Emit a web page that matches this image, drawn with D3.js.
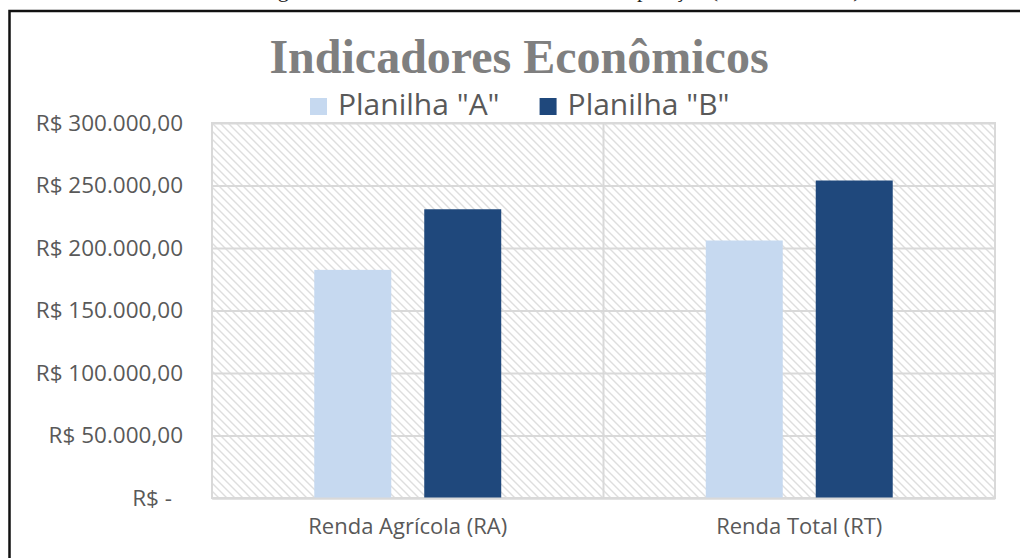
<!DOCTYPE html>
<html>
<head>
<meta charset="utf-8">
<script src="https://cdn.jsdelivr.net/npm/d3@7"></script>
<style>
  body { margin: 0; background: #fff; }
  svg { display: block; }
</style>
</head>
<body>
<svg id="chart"></svg>
<script>
// data
var categories = ["Renda Agrícola (RA)", "Renda Total (RT)"]
var seriesNames = ['Planilha "A"', 'Planilha "B"']
var planilhaA = [182500, 206000]
var planilhaB = [231000, 254000]
var yTicks = [0, 50000, 100000, 150000, 200000, 250000, 300000]
var colors = ["#c6d9f0", "#1f487c"]

var W = 1020, H = 558
var margin = {top: 123, right: 25, bottom: 60, left: 212}
var width = W - margin.left - margin.right
var height = H - margin.top - margin.bottom

var svg = d3.select("#chart")
    .attr("width", W)
    .attr("height", H)

// hatch fill of the plot area
var defs = svg.append("defs")
defs.append("pattern")
    .attr("id", "hatch")
    .attr("patternUnits", "userSpaceOnUse")
    .attr("width", 8)
    .attr("height", 8)
  .append("path")
    .attr("d", "M-2,-2L10,10M-2,6L2,10M6,-2L10,2")
    .attr("stroke", "#dedede")
    .attr("stroke-width", 1.4)

// caption line of the document above the chart, mostly cut off by the page edge
svg.append("text")
    .attr("x", 560)
    .attr("y", -3)
    .attr("text-anchor", "middle")
    .style("font-family", "Liberation Serif")
    .style("font-size", "22px")
    .style("fill", "#222")
    .text("Figura 5 – Indicadores Econômicos – Comparação (Planilhas A e B)")

// chart frame (top and left edges visible)
svg.append("path")
    .attr("d", "M9.5," + H + "V11H" + W)
    .attr("fill", "none")
    .attr("stroke", "#111")
    .attr("stroke-width", 2.5)

var g = svg.append("g")
    .attr("transform", "translate(" + margin.left + "," + margin.top + ")")

var x = d3.scaleBand()
    .domain(categories)
    .range([0, width])

var xSub = d3.scaleBand()
    .domain(seriesNames)
    .range([0, x.bandwidth()])
    .paddingInner(0.3)
    .paddingOuter(0.93)

var y = d3.scaleLinear()
    .domain([0, 300000])
    .range([height, 0])

g.append("rect")
    .attr("width", width)
    .attr("height", height)
    .attr("fill", "url(#hatch)")

function fmt(d) {
    if (d === 0) return "R$ -"
    return "R$ " + d3.format(",.2f")(d).replace(/,/g, "#").replace(".", ",").replace(/#/g, ".")
}

// y axis: gridlines + labels
var yAxis = g.append("g")
    .call(d3.axisLeft(y).tickValues(yTicks).tickSize(-width).tickPadding(29).tickFormat(fmt))
yAxis.select(".domain").remove()
yAxis.selectAll(".tick line")
    .attr("stroke", "#d9d9d9")
    .attr("stroke-width", 2)
yAxis.selectAll(".tick text")
    .attr("dx", d => d === 0 ? -11 : 0)
    .style("font-family", "Open Sans")
    .style("font-size", "22.5px")
    .style("fill", "#595959")

// plot border and category divider
g.append("rect")
    .attr("width", width)
    .attr("height", height)
    .attr("fill", "none")
    .attr("stroke", "#d9d9d9")
    .attr("stroke-width", 2)

g.append("line")
    .attr("x1", x(categories[1]))
    .attr("x2", x(categories[1]))
    .attr("y1", 0)
    .attr("y2", height)
    .attr("stroke", "#d9d9d9")
    .attr("stroke-width", 2)

// bars
var rows = categories.map((c, i) => ({cat: c, values: [planilhaA[i], planilhaB[i]]}))

var groups = g.selectAll(".grp")
    .data(rows)
    .enter().append("g")
    .attr("transform", d => "translate(" + x(d.cat) + ",0)")

groups.selectAll("rect")
    .data(d => d.values.map((v, j) => ({s: seriesNames[j], v: v, j: j})))
    .enter().append("rect")
    .attr("x", d => xSub(d.s))
    .attr("width", xSub.bandwidth())
    .attr("y", d => y(d.v))
    .attr("height", d => height - y(d.v))
    .attr("fill", d => colors[d.j])

// x axis labels
var xAxis = g.append("g")
    .attr("transform", "translate(0," + height + ")")
    .call(d3.axisBottom(x).tickSize(0).tickPadding(20))
xAxis.select(".domain")
    .attr("stroke", "#d9d9d9")
    .attr("stroke-width", 2)
xAxis.selectAll(".tick text")
    .style("font-family", "Open Sans")
    .style("font-size", "22px")
    .style("fill", "#595959")

// title
svg.append("text")
    .attr("x", 519)
    .attr("y", 73)
    .attr("text-anchor", "middle")
    .style("font-family", "Liberation Serif")
    .style("font-weight", "bold")
    .style("font-size", "48px")
    .style("fill", "#7f7f7f")
    .text("Indicadores Econômicos")

// legend
var legend = svg.append("g")
var lx = 310
seriesNames.forEach(function(name, i) {
    legend.append("rect")
        .attr("x", lx)
        .attr("y", 98)
        .attr("width", 17)
        .attr("height", 17)
        .attr("fill", colors[i])
    var t = legend.append("text")
        .attr("x", lx + 28)
        .attr("y", 115)
        .style("font-family", "Open Sans")
        .style("font-size", "30px")
        .style("fill", "#595959")
        .text(name)
    lx += 28 + t.node().getComputedTextLength() + 40
})
</script>
</body>
</html>
